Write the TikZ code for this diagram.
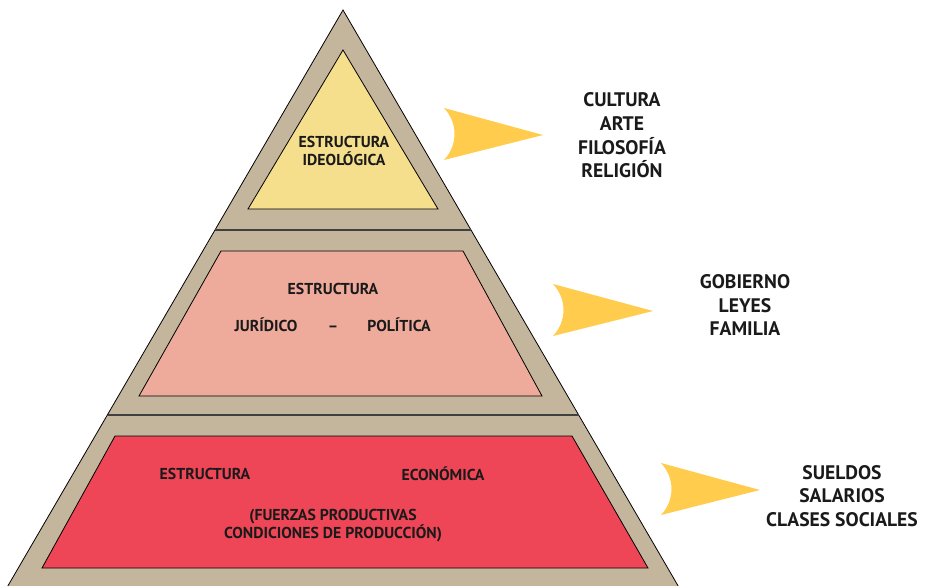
\documentclass[tikz,border=0pt]{standalone}
\usepackage{fontspec}
\setmainfont{PT Sans}
\usetikzlibrary{positioning}
\definecolor{sand}{HTML}{C4B59D}
\definecolor{ideoyellow}{HTML}{F5DF8D}
\definecolor{jurpink}{HTML}{EEAB9B}
\definecolor{ecored}{HTML}{EF4657}
\definecolor{arrowgold}{HTML}{FFCC4E}
\definecolor{ink}{HTML}{1A1A1A}
\tikzset{
  layerbox/.style={
    draw=black, line width=0.8pt, fill=#1, line join=miter
  },
  layerbox/.default=sand,
  divider/.style={
    draw=black!75, line width=1.6pt
  },
  pointer/.style={
    fill=arrowgold, draw=none
  },
  intext/.style={
    font=\fontsize{15.8}{18}\selectfont\bfseries, color=ink,
    align=center, inner sep=0pt
  },
  sidetext/.style={
    font=\fontsize{19.6}{23.7}\selectfont\bfseries, color=ink,
    align=center, inner sep=0pt
  },
}

\begin{document}
\begin{tikzpicture}[x=1pt, y=-1pt]
  \clip (0,0) rectangle (934,586);

  % Outer pyramid
  \path[layerbox=sand] (343,10) -- (680.5,590) -- (5.5,590) -- cycle;
  \draw[divider] (215,230) -- (471,230);
  \draw[divider] (107.5,415) -- (578.5,415);

  % Inner layers
  \path[layerbox=ideoyellow] (343,50) -- (438,209) -- (248,209) -- cycle;
  \path[layerbox=jurpink] (221,251) -- (463,251) -- (542,396) -- (139,396) -- cycle;
  \path[layerbox=ecored] (115,436) -- (572,436) -- (648,568) -- (42,568) -- cycle;

  % Layer labels
  \node[intext] (ideo) at (344,151) {ESTRUCTURA\\IDEOLÓGICA};
  \node[intext] (jurtitle) at (333,289) {ESTRUCTURA};
  \node[intext, anchor=base] (jur) at (266,331.5) {JURÍDICO};
  \node[intext, anchor=base] (dash) at (333,331.5) {–};
  \node[intext, anchor=base] (pol) at (399,331.5) {POLÍTICA};
  \node[intext] (ecotitle) at (205,474) {ESTRUCTURA};
  \node[intext] (eco) at (443,474) {ECONÓMICA};
  \node[intext] (fuerzas) at (333,526) {(FUERZAS PRODUCTIVAS\\CONDICIONES DE PRODUCCIÓN)};

  % Pointers
  \path[pointer] (444,108) -- (543,135) -- (444,160)
    .. controls (458,145) and (458,123) .. cycle;
  \path[pointer] (553,284) -- (653,311) -- (553,336)
    .. controls (567,321) and (567,299) .. cycle;
  \path[pointer] (661,463) -- (760,490) -- (661,515)
    .. controls (675,500) and (675,478) .. cycle;

  % Side labels
  \node[sidetext] (cultura) at (622,135.5) {CULTURA\\ARTE\\FILOSOFÍA\\RELIGIÓN};
  \node[sidetext] (gobierno) at (745,305) {GOBIERNO\\LEYES\\FAMILIA};
  \node[sidetext] (sueldos) at (842,496) {SUELDOS\\SALARIOS\\CLASES SOCIALES};
\end{tikzpicture}
\end{document}
